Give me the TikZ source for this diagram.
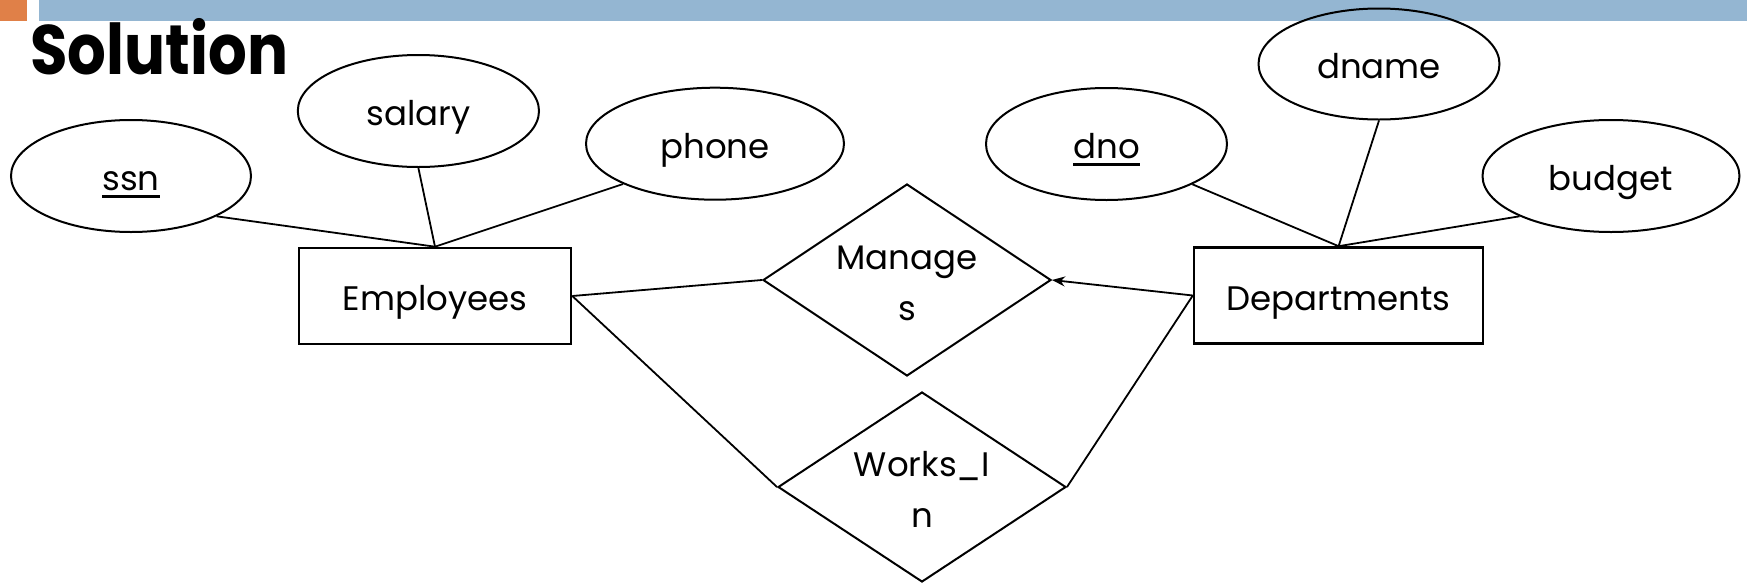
\documentclass[tikz,border=0pt]{standalone}
\usepackage{fontspec}
\setmainfont{Poppins}
\newfontfamily\titlefont{Poppins}[FakeStretch=0.87]
\usetikzlibrary{shapes.geometric,arrows.meta}
\definecolor{barblue}{RGB}{148,182,210}
\definecolor{barorange}{RGB}{224,128,72}
\newcommand\ulbar[1]{\setbox0\hbox{#1}\rlap{\rule[-3.6pt]{\wd0}{1.5pt}}\box0}
\newcommand\relline[1]{\raisebox{-7.25pt}[0pt][0pt]{#1}}
\begin{document}
\begin{tikzpicture}[x=0.5pt,y=-0.5pt,
  lbl/.style={font=\fontsize{17}{25.5}\selectfont},
  attr/.style={ellipse,draw,line width=1pt,inner sep=0pt,text height=14.5pt,text depth=0pt,lbl},
  entity/.style={rectangle,draw,line width=1.3pt,inner sep=0pt,minimum height=48pt,text height=14.5pt,text depth=0pt,lbl},
  rel/.style={diamond,draw,line width=1pt,inner sep=0pt,aspect=1.5,align=center,lbl},
  link/.style={line width=0.9pt}]
\useasboundingbox (0,0) rectangle (1747,584);
\fill[barorange] (0,0) rectangle (27,21);
\fill[barblue] (39,0) rectangle (1747,21);
\node[anchor=base west,inner sep=0pt,font=\titlefont\bfseries\fontsize{35}{40}\selectfont] (title) at (30,74) {Solution};
% attributes
\node[attr,minimum width=120pt,minimum height=56pt] (ssn) at (131,176) {\ulbar{ssn}};
\node[attr,minimum width=120.6pt,minimum height=56pt] (salary) at (418.4,111) {salary};
\node[attr,minimum width=129pt,minimum height=56pt] (phone) at (715,143.7) {phone};
\node[attr,minimum width=120.5pt,minimum height=56pt] (dno) at (1106.5,144) {\ulbar{dno}};
\node[attr,minimum width=120.5pt,minimum height=55.5pt] (dname) at (1379,64) {dname};
\node[attr,minimum width=128.5pt,minimum height=56pt] (budget) at (1611,176) {budget};
% entities
\node[entity,minimum width=136pt] (emp) at (435,296) {Employees};
\node[entity,minimum width=144.5pt] (dept) at (1338.6,295.5) {Departments};
% relationships
\node[rel,minimum width=144pt,minimum height=96pt] (manages) at (907,280) {\relline{Manage}\\\relline{s}};
\node[rel,minimum width=144pt,minimum height=95pt] (worksin) at (922,487) {\relline{Works\_I}\\\relline{n}};
% connectors
\draw[link] (ssn.south east) -- (emp.north);
\draw[link] (salary.south) -- (emp.north);
\draw[link] (phone.south west) -- (emp.north);
\draw[link] (dno.south east) -- (dept.north);
\draw[link] (dname.south) -- (dept.north);
\draw[link] (budget.south west) -- (dept.north);
\draw[link] (emp.east) -- (manages.west);
\draw[link] (emp.east) -- (worksin.west);
\draw[link,-{Stealth[length=6.5pt,width=5pt]}] (dept.west) -- (manages.east);
\draw[link] (dept.west) -- (worksin.east);
\end{tikzpicture}
\end{document}
